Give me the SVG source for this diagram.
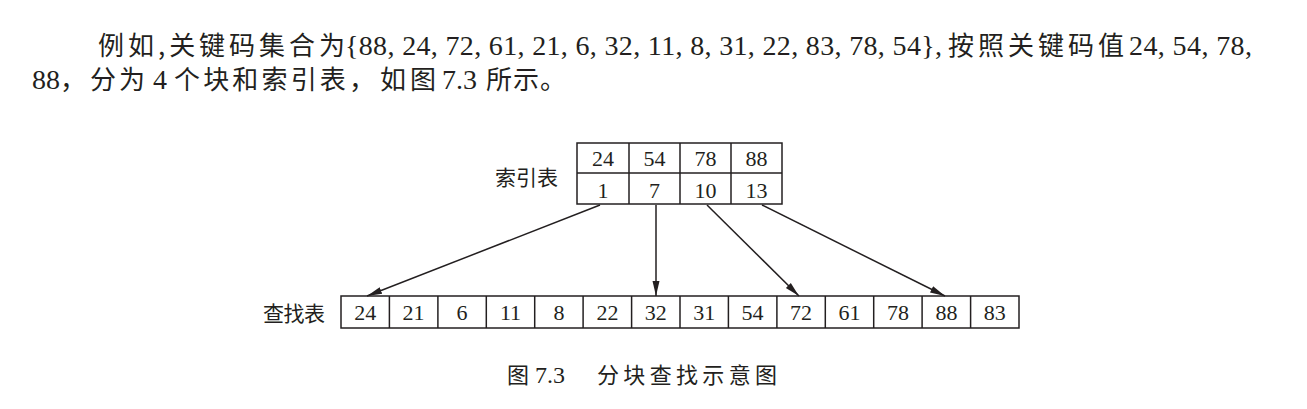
<svg xmlns="http://www.w3.org/2000/svg" width="1307" height="409" viewBox="0 0 1307 409">
<style>
.cj{font-family:"Noto Sans CJK SC","Noto Sans",sans-serif;fill:#231f20}
.lt{font-family:"Liberation Serif","Times New Roman",serif;fill:#231f20}
.p{font-size:26px}
.pn{font-size:28px}
.lab{font-size:21px}
.num{font-size:22px;text-anchor:middle}
.cell{fill:none;stroke:#231f20;stroke-width:1.5}
.conn{stroke:#231f20;stroke-width:1.5;fill:none;marker-end:url(#ah)}
</style>
<defs>
<marker id="ah" markerUnits="userSpaceOnUse" markerWidth="16" markerHeight="10" refX="15" refY="5" orient="auto">
<path d="M0,1.5 L15,5 L0,8.5 Z" fill="#231f20"/>
</marker>
</defs>
<rect width="1307" height="409" fill="#ffffff"/>
<g id="paragraph">
<text class="cj p" x="98" y="55" textLength="247" lengthAdjust="spacing">例如,关键码集合为</text>
<text class="lt pn" x="345" y="55" textLength="597" lengthAdjust="spacing">{88, 24, 72, 61, 21, 6, 32, 11, 8, 31, 22, 83, 78, 54},</text>
<text class="cj p" x="948" y="55" textLength="176" lengthAdjust="spacing">按照关键码值</text>
<text class="lt pn" x="1129" y="55" textLength="123" lengthAdjust="spacing">24, 54, 78,</text>
<text class="lt pn" x="32" y="89">88</text>
<text class="cj p" x="60" y="89">，</text>
<text class="cj p" x="90" y="89" textLength="55" lengthAdjust="spacing">分为</text>
<text class="lt pn" x="153" y="89">4</text>
<text class="cj p" x="174" y="89" textLength="201" lengthAdjust="spacing">个块和索引表，</text>
<text class="cj p" x="380" y="89" textLength="56" lengthAdjust="spacing">如图</text>
<text class="lt pn" x="442" y="89">7.3</text>
<text class="cj p" x="486" y="89" textLength="80" lengthAdjust="spacing">所示。</text>
</g>
<g id="index-table">
<text class="cj lab" x="495" y="185" textLength="63" lengthAdjust="spacing">索引表</text>
<rect class="cell" x="577" y="143" width="205" height="61"/>
<line class="cell" x1="577" y1="173" x2="782" y2="173"/>
<line class="cell" x1="629" y1="143" x2="629" y2="204"/>
<line class="cell" x1="680" y1="143" x2="680" y2="204"/>
<line class="cell" x1="731" y1="143" x2="731" y2="204"/>
<text class="lt num" x="603" y="166">24</text>
<text class="lt num" x="654.5" y="166">54</text>
<text class="lt num" x="705.5" y="166">78</text>
<text class="lt num" x="756.5" y="166">88</text>
<text class="lt num" x="603" y="198">1</text>
<text class="lt num" x="654.5" y="198">7</text>
<text class="lt num" x="705.5" y="198">10</text>
<text class="lt num" x="756.5" y="198">13</text>
</g>
<g id="lookup-table">
<text class="cj lab" x="263" y="321" textLength="62" lengthAdjust="spacing">查找表</text>
<rect class="cell" x="341" y="296" width="678" height="32"/>
<line class="cell" x1="389.4" y1="296" x2="389.4" y2="328"/>
<line class="cell" x1="437.9" y1="296" x2="437.9" y2="328"/>
<line class="cell" x1="486.3" y1="296" x2="486.3" y2="328"/>
<line class="cell" x1="534.7" y1="296" x2="534.7" y2="328"/>
<line class="cell" x1="583.1" y1="296" x2="583.1" y2="328"/>
<line class="cell" x1="631.6" y1="296" x2="631.6" y2="328"/>
<line class="cell" x1="680" y1="296" x2="680" y2="328"/>
<line class="cell" x1="728.4" y1="296" x2="728.4" y2="328"/>
<line class="cell" x1="776.9" y1="296" x2="776.9" y2="328"/>
<line class="cell" x1="825.3" y1="296" x2="825.3" y2="328"/>
<line class="cell" x1="873.7" y1="296" x2="873.7" y2="328"/>
<line class="cell" x1="922.1" y1="296" x2="922.1" y2="328"/>
<line class="cell" x1="970.6" y1="296" x2="970.6" y2="328"/>
<text class="lt num" x="365.2" y="320">24</text>
<text class="lt num" x="413.6" y="320">21</text>
<text class="lt num" x="462.1" y="320">6</text>
<text class="lt num" x="510.5" y="320">11</text>
<text class="lt num" x="558.9" y="320">8</text>
<text class="lt num" x="607.4" y="320">22</text>
<text class="lt num" x="655.8" y="320">32</text>
<text class="lt num" x="704.2" y="320">31</text>
<text class="lt num" x="752.6" y="320">54</text>
<text class="lt num" x="801.1" y="320">72</text>
<text class="lt num" x="849.5" y="320">61</text>
<text class="lt num" x="897.9" y="320">78</text>
<text class="lt num" x="946.4" y="320">88</text>
<text class="lt num" x="994.8" y="320">83</text>
</g>
<g id="connectors">
<line class="conn" x1="600" y1="205" x2="367" y2="296"/>
<line class="conn" x1="656" y1="205" x2="656" y2="296"/>
<line class="conn" x1="707" y1="205" x2="799" y2="296"/>
<line class="conn" x1="762" y1="205" x2="945" y2="296"/>
</g>
<g id="caption">
<text class="cj" font-size="22" x="507" y="383">图</text>
<text class="lt" font-size="24" x="535" y="383">7.3</text>
<text class="cj" font-size="22" x="597" y="383" textLength="180" lengthAdjust="spacing">分块查找示意图</text>
</g>
</svg>
